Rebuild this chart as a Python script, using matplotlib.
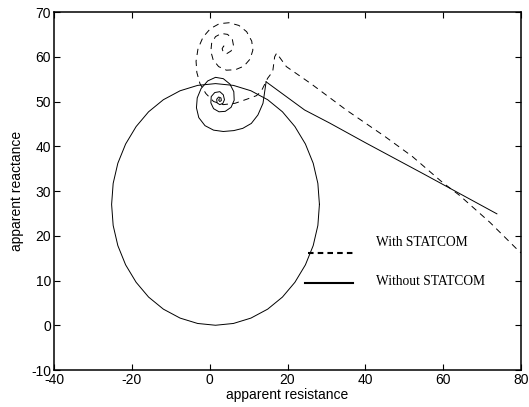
import matplotlib
matplotlib.use('Agg')
import matplotlib.pyplot as plt

# without STATCOM: straight trajectory into the spiral
line_x = [73.8, 55.0, 40.0, 30.8, 24.4, 14.5]
line_y = [24.9, 33.8, 40.8, 45.2, 48.1, 54.4]

spiral_x = [14.5, 13.7, 12.4, 10.7, 8.5, 6.2, 3.5, 1.0, -1.2, -2.8, -3.4, -3.2, -2.2, -0.5,
            1.5, 3.5, 5.2, 6.2, 6.3, 5.5, 4.0, 2.4, 1.0, 0.3, 0.4, 1.3, 2.6, 3.5, 3.8, 3.4,
            2.6, 1.9, 1.8, 2.3, 2.9, 3.0, 2.6, 2.3, 2.5]
spiral_y = [54.4, 49.6, 47.0, 45.1, 44.0, 43.5, 43.3, 43.6, 44.6, 46.4, 48.6, 50.8, 52.9, 54.6,
            55.4, 55.1, 53.9, 52.2, 50.3, 48.7, 47.8, 47.7, 48.4, 49.7, 51.1, 52.0, 52.2, 51.5,
            50.4, 49.6, 49.3, 49.7, 50.5, 51.0, 50.8, 50.2, 50.0, 50.3, 50.6]

circle_x = [28.2, 27.8, 26.6, 24.6, 21.9, 18.7, 14.9, 10.6, 6.1, 1.5, -3.1, -7.6, -11.9,
            -15.7, -18.9, -21.6, -23.6, -24.8, -25.2, -24.8, -23.6, -21.6, -18.9, -15.7,
            -11.9, -7.6, -3.1, 1.5, 6.1, 10.6, 14.9, 18.7, 21.9, 24.6, 26.6, 27.8, 28.2]
circle_y = [27.0, 31.7, 36.2, 40.5, 44.4, 47.7, 50.4, 52.4, 53.6, 54.0, 53.6, 52.4, 50.4,
            47.7, 44.4, 40.5, 36.2, 31.7, 27.0, 22.3, 17.8, 13.5, 9.6, 6.3,
            3.6, 1.6, 0.4, 0.0, 0.4, 1.6, 3.6, 6.3, 9.6, 13.5, 17.8, 22.3, 27.0]

# with STATCOM
dash_x = [81.0, 79.3, 72.0, 64.1, 60.0, 58.1, 52.1, 45.0, 35.1, 26.0, 19.7, 17.2, 16.7, 16.2,
          14.9, 13.2, 12.0, 9.5, 6.5, 3.5, 1.0, -1.0, -2.5, -3.3, -3.5, -3.0, -1.7, 0.2, 2.5,
          5.0, 7.5, 9.5, 10.8, 11.1, 10.4, 8.8, 6.6, 4.3, 2.3, 0.9, 0.3, 0.5, 1.5, 3.0, 4.6,
          5.8, 6.1, 5.5, 4.4, 3.5, 3.2, 3.6, 4.2]
dash_y = [15.5, 16.7, 23.0, 29.1, 31.8, 33.2, 37.7, 42.2, 48.1, 54.0, 57.8, 60.8, 60.0, 56.7,
          55.2, 52.2, 51.3, 50.5, 49.6, 49.3, 50.0, 51.8, 54.0, 56.5, 59.0, 61.8, 64.4, 66.3, 67.4,
          67.6, 67.0, 65.6, 63.5, 61.5, 59.5, 57.9, 57.1, 57.0, 57.8, 59.3, 61.2, 63.0, 64.5, 65.2,
          65.0, 64.0, 62.6, 61.3, 60.7, 61.0, 61.8, 62.4, 62.2]

plt.rcParams['lines.scale_dashes'] = False
plt.rcParams['axes.unicode_minus'] = False
plt.rcParams['font.family'] = ['Liberation Sans', 'DejaVu Sans']

fig = plt.figure(figsize=(5.29, 4.07), dpi=100)
ax = fig.add_axes([0.1021, 0.0909, 0.8828, 0.8796])

ax.plot(line_x, line_y, color='black', lw=0.7)
ax.plot(spiral_x, spiral_y, color='black', lw=0.7)
ax.plot(circle_x, circle_y, color='black', lw=0.7)
ax.plot(dash_x, dash_y, color='black', lw=0.7, dashes=(4.5, 3.5))

# hand-drawn legend, as in the original figure
ax.plot([25.2, 37.7], [16.1, 16.1], color='black', lw=1.5, dashes=(4.0, 3.0))
ax.plot([24.4, 36.7], [9.4, 9.4], color='black', lw=1.5)
ax.text(42.8, 18.6, 'With STATCOM', family='Liberation Serif', fontsize=9.75, va='center')
ax.text(42.8, 9.7, 'Without STATCOM', family='Liberation Serif', fontsize=9.75, va='center')

ax.set_xlim(-40, 80)
ax.set_ylim(-10, 70)
ax.set_xticks(range(-40, 81, 20))
ax.set_yticks(range(-10, 71, 10))
ax.tick_params(direction='in', top=True, right=True, length=4, width=0.8,
               labelsize=10, pad=2)
for s in ax.spines.values():
    s.set_linewidth(1.1)

ax.set_xlabel('apparent resistance', fontsize=10, labelpad=1)
ax.set_ylabel('apparent reactance', fontsize=10, labelpad=5)

fig.savefig('out.png', dpi=100)
